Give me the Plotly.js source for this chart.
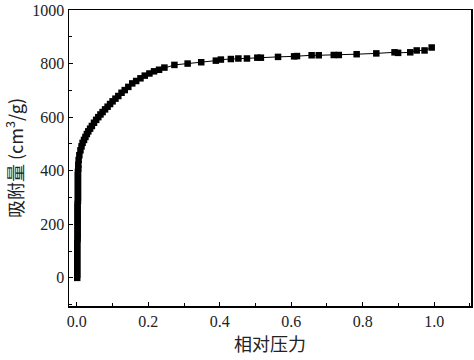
<!DOCTYPE html>
<html>
<head>
<meta charset="utf-8">
<script src="https://cdn.plot.ly/plotly-3.0.1.min.js"></script>
<style>html,body{margin:0;padding:0;background:#fff;}#chart{width:474px;height:360px;}</style>
</head>
<body>
<div id="chart"></div>
<script>
const relPressure = [
  0.001,0.001,0.001,0.001,0.001,0.001,0.001,0.001,0.001,0.001,0.001,0.001,0.002,0.002,0.002,0.002,
  0.002,0.002,0.002,0.002,0.002,0.002,0.002,0.002,0.003,0.003,0.003,0.003,0.003,0.003,0.003,0.003,
  0.003,0.003,0.004,0.004,
  0.005,0.007,0.010,0.013,0.016,0.020,0.024,0.028,0.032,0.037,0.042,0.048,0.054,0.060,0.066,0.072,
  0.079,0.086,0.093,0.100,0.108,0.116,0.125,0.134,0.144,0.155,0.166,0.178,0.190,0.203,0.216,0.230,
  0.245,0.273,0.310,0.348,0.389,0.403,0.431,0.452,0.476,0.505,0.515,0.563,0.608,0.616,0.657,0.677,
  0.719,0.733,0.783,0.838,0.889,0.899,0.933,0.951,0.973,0.993
];
const adsorbed = [
  0,12,24,36,48,60,72,84,96,108,120,132,144,156,168,180,
  192,204,216,228,240,252,264,276,288,300,312,324,336,348,360,372,
  384,396,408,422,
  440,458,476,491,504,515,526,537,547,557,567,579,590,600,610,619,
  629,639,649,659,669,679,691,701,713,726,735,745,755,763,771,777,
  785,795,800,805,811,815,817,819,819,822,822,825,827,828,831,831,
  832,832,835,838,842,840,842,849,849,860
];
const xTickVals = [0,0.2,0.4,0.6,0.8,1.0];
const xTickText = ['0.0','0.2','0.4','0.6','0.8','1.0'];
const yTickVals = [0,200,400,600,800,1000];

const trace = {
  x: relPressure, y: adsorbed, type: 'scatter', mode: 'lines+markers',
  line: {color: '#000', width: 1},
  marker: {symbol: 'square', size: 6.5, color: '#000'},
  hoverinfo: 'none'
};
const tickFont = {family: '"Liberation Serif", "DejaVu Serif", serif', size: 16, color: '#222'};
const layout = {
  width: 474, height: 360,
  margin: {l: 69, r: 3, t: 10, b: 54},
  paper_bgcolor: '#fff', plot_bgcolor: '#fff',
  showlegend: false,
  xaxis: {
    range: [-0.022, 1.103], tickvals: xTickVals, ticktext: xTickText,
    ticks: 'inside', ticklen: 4, tickwidth: 1, tickcolor: '#000',
    minor: {dtick: 0.1, tick0: 0, ticks: 'inside', ticklen: 3, tickcolor: '#000', showgrid: false},
    showline: true, linecolor: '#000', linewidth: 1.5, mirror: true,
    showgrid: false, zeroline: false, tickfont: tickFont,
    title: {text: '相对压力', font: {family: '"Noto Sans CJK SC", sans-serif', size: 18, color: '#222'}, standoff: 8}
  },
  yaxis: {
    range: [-105, 1000], tickvals: yTickVals,
    ticks: 'inside', ticklen: 4, tickwidth: 1, tickcolor: '#000',
    minor: {dtick: 100, tick0: 0, ticks: 'inside', ticklen: 3, tickcolor: '#000', showgrid: false},
    showline: true, linecolor: '#000', linewidth: 1.5, mirror: true,
    showgrid: false, zeroline: false, tickfont: tickFont,
    title: {text: '吸附量 (cm<sup>3</sup>/g)', font: {family: '"Noto Sans CJK SC", "Liberation Serif", serif', size: 18, color: '#222'}, standoff: 6}
  }
};
Plotly.newPlot('chart', [trace], layout, {staticPlot: true, displayModeBar: false});
</script>
</body>
</html>
